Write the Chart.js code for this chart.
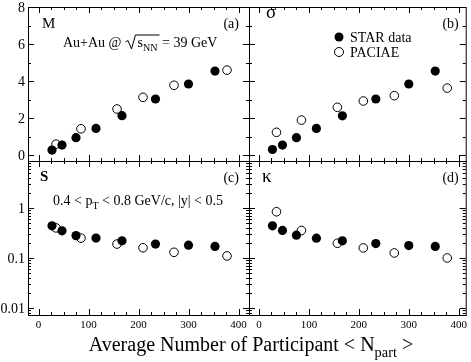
<!DOCTYPE html>
<html>
<head>
<meta charset="utf-8">
<script src="https://cdn.jsdelivr.net/npm/chart.js@4"></script>
<style>
  html, body { margin: 0; padding: 0; background: #fff; }
  #wrap { position: relative; width: 471px; height: 362px; }
  #wrap canvas { position: absolute; left: 0; top: 0; }
</style>
</head>
<body>
<div id="wrap">
  <canvas id="pa" width="471" height="362"></canvas>
  <canvas id="pb" width="471" height="362"></canvas>
  <canvas id="pc" width="471" height="362"></canvas>
  <canvas id="pd" width="471" height="362"></canvas>
</div>
<script>
// <Npart> of the centrality bins
const nPartStar = [27, 47, 75, 115, 167, 234, 300, 353];
const nPartPaciae = [35, 85, 157, 209, 271, 377];

// M
const starM = [0.27, 0.54, 0.94, 1.44, 2.13, 3.03, 3.84, 4.54];
const paciaeM = [0.59, 1.42, 2.49, 3.12, 3.77, 4.59];
// sigma
const starSigma = [0.30, 0.54, 0.94, 1.44, 2.12, 3.03, 3.84, 4.54];
const paciaeSigma = [1.23, 1.89, 2.58, 2.92, 3.21, 3.62];
// S
const starS = [0.44, 0.35, 0.28, 0.25, 0.22, 0.19, 0.18, 0.17];
const paciaeS = [0.40, 0.25, 0.19, 0.16, 0.13, 0.11];
// kappa
const starKappa = [0.44, 0.355, 0.286, 0.249, 0.22, 0.194, 0.177, 0.17];
const paciaeKappa = [0.84, 0.355, 0.197, 0.159, 0.126, 0.10];

// tick labels
const xTicks = [0, 100, 200, 300, 400];
const linTicks = [0, 2, 4, 6, 8];
const logTicks = [0.01, 0.1, 1];
const seriesNames = ['STAR data', 'PACIAE'];

const SERIF = '"Liberation Serif", "DejaVu Serif", serif';

// minor ticks
const xMinor = [];
for (let v = 25; v < 420; v += 25) if (v % 100) xMinor.push(v);
const linMinor = [1, 3, 5, 7];
const logMinor = [0.008, 0.009];
[0.01, 0.1, 1].forEach(d => { for (let k = 2; k <= 9; k++) if (d * k < 8.7) logMinor.push(d * k); });

function rich(ctx, runs, x, y, size) {
  let cx = x;
  for (const [t, sub] of runs) {
    ctx.font = (sub ? size * 0.72 : size) + 'px ' + SERIF;
    ctx.fillText(t, cx, sub ? y + size * 0.32 : y);
    cx += ctx.measureText(t).width;
  }
  return cx;
}

function richWidth(ctx, runs, size) {
  let w = 0;
  for (const [t, sub] of runs) {
    ctx.font = (sub ? size * 0.72 : size) + 'px ' + SERIF;
    w += ctx.measureText(t).width;
  }
  return w;
}

const frame = {
  id: 'frame',
  afterDraw(chart, args, o) {
    const { ctx, chartArea: a, scales: { x, y } } = chart;
    ctx.save();
    ctx.strokeStyle = '#000';
    ctx.fillStyle = '#000';
    ctx.lineWidth = 1;
    ctx.strokeRect(a.left + 0.5, a.top + 0.5, a.right - a.left, a.bottom - a.top);

    ctx.beginPath();
    const xt = (v, len) => {
      const p = Math.round(x.getPixelForValue(v)) + 0.5;
      ctx.moveTo(p, a.bottom); ctx.lineTo(p, a.bottom - len);
      ctx.moveTo(p, a.top); ctx.lineTo(p, a.top + len);
    };
    const yt = (v, len) => {
      const p = Math.round(y.getPixelForValue(v)) + 0.5;
      ctx.moveTo(a.left, p); ctx.lineTo(a.left + len, p);
      ctx.moveTo(a.right, p); ctx.lineTo(a.right - len, p);
    };
    xTicks.forEach(v => xt(v, 6));
    xMinor.forEach(v => xt(v, 3));
    if (o.log) {
      logTicks.forEach(v => yt(v, 6));
      logMinor.forEach(v => yt(v, 3));
    } else {
      linTicks.forEach(v => yt(v, 6));
      linMinor.forEach(v => yt(v, 3));
    }
    ctx.stroke();

    // tick labels
    if (o.yLabels) {
      ctx.font = '14px ' + SERIF;
      ctx.textAlign = 'right';
      ctx.textBaseline = 'middle';
      (o.log ? logTicks : linTicks).forEach(v => {
        ctx.fillText(String(v), a.left - 3, y.getPixelForValue(v) + 1);
      });
    }
    if (o.xLabels) {
      ctx.font = '11px ' + SERIF;
      ctx.textAlign = 'center';
      ctx.textBaseline = 'middle';
      xTicks.forEach(v => ctx.fillText(String(v), x.getPixelForValue(v), a.bottom + 10));
    }

    // panel labels
    ctx.textBaseline = 'alphabetic';
    ctx.textAlign = 'left';
    ctx.font = (o.bold ? 'bold ' : '') + o.nameSize + 'px ' + SERIF;
    ctx.fillText(o.name, a.left + o.nameDx, a.top + o.nameDy);
    ctx.font = '14px ' + SERIF;
    ctx.textAlign = 'right';
    ctx.fillText(o.tag, a.right - o.tagDx, a.top + 21);
    ctx.textAlign = 'left';

    if (o.extra) o.extra(ctx, a);
    ctx.restore();
  }
};

function energyText(ctx, a) {
  const s = 14, base = a.top + 40;
  let cx = rich(ctx, [['Au+Au @']], a.left + 35, base, s);
  // square-root sign
  const r0 = cx + 4;
  const inner = [['s'], ['NN', true]];
  const w = richWidth(ctx, inner, s);
  const top = base - 12;
  ctx.beginPath();
  ctx.moveTo(r0, base - 5);
  ctx.lineTo(r0 + 2.5, base - 6.5);
  ctx.lineTo(r0 + 6, base + 2);
  ctx.lineTo(r0 + 10, top);
  ctx.lineTo(r0 + 12 + w + 2, top);
  ctx.stroke();
  cx = rich(ctx, inner, r0 + 12, base, s);
  rich(ctx, [[' = 39 GeV']], cx + 1, base, s);
}

function legendText(ctx, a) {
  const cx = 339, rows = [37, 52];
  ctx.font = '14px ' + SERIF;
  ctx.textBaseline = 'middle';
  rows.forEach((yy, i) => {
    ctx.beginPath();
    ctx.arc(cx, yy, 4.5, 0, Math.PI * 2);
    if (i === 0) ctx.fill(); else ctx.stroke();
    ctx.fillText(seriesNames[i], cx + 11, yy + 1);
  });
  ctx.textBaseline = 'alphabetic';
}

function cutText(ctx, a) {
  rich(ctx, [['0.4 < p'], ['T', true], [' < 0.8 GeV/c, |y| < 0.5']], a.left + 25, a.top + 44, 14);
}

function axisTitle(ctx, a) {
  const s = 20;
  const runs = [['Average Number of Participant < N'], ['part', true], [' >']];
  const w = richWidth(ctx, runs, s);
  rich(ctx, runs, 251 - w / 2, 351, s);
}

function makePanel(id, box, xr, log, star, pac, o) {
  const [l, t, r, b] = box;
  const pts = (xs, ys) => xs.map((v, i) => ({ x: v, y: ys[i] }));
  new Chart(document.getElementById(id), {
    type: 'scatter',
    data: {
      datasets: [
        {
          label: seriesNames[0],
          data: pts(nPartStar, star),
          pointStyle: 'circle',
          pointRadius: 4.6,
          backgroundColor: '#000',
          borderColor: '#000',
          borderWidth: 0
        },
        {
          label: seriesNames[1],
          data: pts(nPartPaciae, pac),
          pointStyle: 'circle',
          pointRadius: 4.3,
          backgroundColor: 'rgba(255,255,255,0)',
          borderColor: '#000',
          borderWidth: 1
        }
      ]
    },
    options: {
      responsive: false,
      animation: false,
      events: [],
      layout: { padding: { left: l, top: t, right: 471 - r, bottom: 362 - b } },
      scales: {
        x: { type: 'linear', min: xr[0], max: xr[1], display: false },
        y: log
          ? { type: 'logarithmic', min: 0.00724, max: 8.7, display: false }
          : { type: 'linear', min: -0.32, max: 8, display: false }
      },
      plugins: {
        legend: { display: false },
        tooltip: { enabled: false },
        frame: Object.assign({ log: log }, o)
      }
    },
    plugins: [frame]
  });
}

makePanel('pa', [28, 7, 249, 161], [-21, 421], false, starM, paciaeM,
  { yLabels: true, xLabels: false, name: 'M', nameSize: 15, nameDx: 14, nameDy: 21, tag: '(a)', tagDx: 10, extra: energyText });
makePanel('pb', [249, 7, 467, 161], [-20, 414], false, starSigma, paciaeSigma,
  { yLabels: false, xLabels: false, name: 'σ', nameSize: 19, nameDx: 17, nameDy: 11, tag: '(b)', tagDx: 7, extra: legendText });
makePanel('pc', [28, 161, 249, 315], [-21, 421], true, starS, paciaeS,
  { yLabels: true, xLabels: true, name: 'S', nameSize: 15, bold: true, nameDx: 12, nameDy: 20, tag: '(c)', tagDx: 10,
    extra: (ctx, a) => { cutText(ctx, a); axisTitle(ctx, a); } });
makePanel('pd', [249, 161, 467, 315], [-20, 414], true, starKappa, paciaeKappa,
  { yLabels: false, xLabels: true, name: 'κ', nameSize: 19, nameDx: 13, nameDy: 21, tag: '(d)', tagDx: 7 });
</script>
</body>
</html>
